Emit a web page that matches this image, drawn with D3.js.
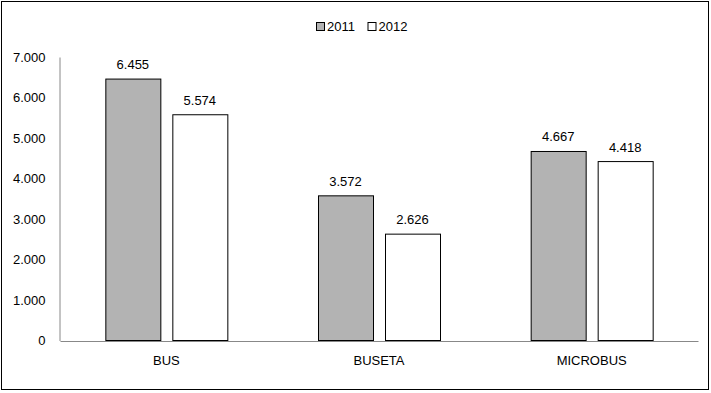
<!DOCTYPE html>
<html>
<head>
<meta charset="utf-8">
<script src="https://cdn.jsdelivr.net/npm/d3@7"></script>
<style>
  body { margin: 0; background: #fff; }
  text { font-family: "Liberation Sans", Arial, sans-serif; font-size: 13px; fill: #000; }
</style>
</head>
<body>
<div id="chart"></div>
<script>
const categories = ["BUS", "BUSETA", "MICROBUS"];
const years = ["2011", "2012"];
const values2011 = [6455, 3572, 4667];
const values2012 = [5574, 2626, 4418];
const yTicks = [0, 1000, 2000, 3000, 4000, 5000, 6000, 7000];

const width = 711, height = 393;
const margin = {top: 57, right: 13, bottom: 52.5, left: 60};
const fills = {"2011": "#b3b3b3", "2012": "#ffffff"};

const fmt = v => d3.format(",")(v).replace(/,/g, ".");

const rows = categories.map((c, i) => ({cat: c, vals: [
  {year: "2011", v: values2011[i]},
  {year: "2012", v: values2012[i]}
]}));

const svg = d3.select("#chart").append("svg")
  .attr("width", width).attr("height", height);

// outer frame
svg.append("rect")
  .attr("x", 1.5).attr("y", 1.5)
  .attr("width", width - 4).attr("height", height - 5)
  .attr("fill", "none").attr("stroke", "#000").attr("stroke-width", 1);

const x = d3.scaleBand()
  .domain(categories)
  .range([margin.left, width - margin.right]);

const y = d3.scaleLinear()
  .domain([0, 7000])
  .range([height - margin.bottom, margin.top]);

const barW = 55, gap = 12;
const inner = d3.scaleOrdinal().domain(years)
  .range([-(barW + gap / 2), gap / 2]);

// y axis
const yAxis = svg.append("g")
  .attr("transform", `translate(${margin.left - 0.5},0)`)
  .call(d3.axisLeft(y).tickValues(yTicks).tickSize(0).tickPadding(14).tickFormat(fmt));
yAxis.select(".domain").attr("stroke", "#888");
yAxis.selectAll("text").style("font-size", "13px").attr("font-family", null);

// x axis
const xAxis = svg.append("g")
  .attr("transform", `translate(0,${y(0) + 0.5})`)
  .call(d3.axisBottom(x).tickSize(0).tickPadding(15));
xAxis.select(".domain").attr("stroke", "#888");
xAxis.selectAll("text").style("font-size", "13px").attr("font-family", null);

// bars
const grp = svg.selectAll("g.cat").data(rows).enter().append("g")
  .attr("class", "cat")
  .attr("transform", d => `translate(${x(d.cat) + x.bandwidth() / 2},0)`);

grp.selectAll("rect").data(d => d.vals).enter().append("rect")
  .attr("x", d => Math.round(inner(d.year)) + 0.5)
  .attr("y", d => y(d.v))
  .attr("width", barW)
  .attr("height", d => y(0) - y(d.v))
  .attr("fill", d => fills[d.year])
  .attr("stroke", "#000").attr("stroke-width", 1);

grp.selectAll("text.val").data(d => d.vals).enter().append("text")
  .attr("class", "val")
  .attr("x", d => inner(d.year) + barW / 2)
  .attr("y", d => y(d.v) - 10)
  .attr("text-anchor", "middle")
  .text(d => fmt(d.v));

// legend
const legend = svg.append("g").attr("transform", "translate(316,22)");
const li = legend.selectAll("g").data(years).enter().append("g")
  .attr("transform", (d, i) => `translate(${i * 51.5},0)`);
li.append("rect")
  .attr("x", 0.5).attr("y", 0.5).attr("width", 8).attr("height", 8)
  .attr("fill", d => fills[d]).attr("stroke", "#000");
li.append("text")
  .attr("x", 11).attr("y", 9)
  .text(d => d);
</script>
</body>
</html>
